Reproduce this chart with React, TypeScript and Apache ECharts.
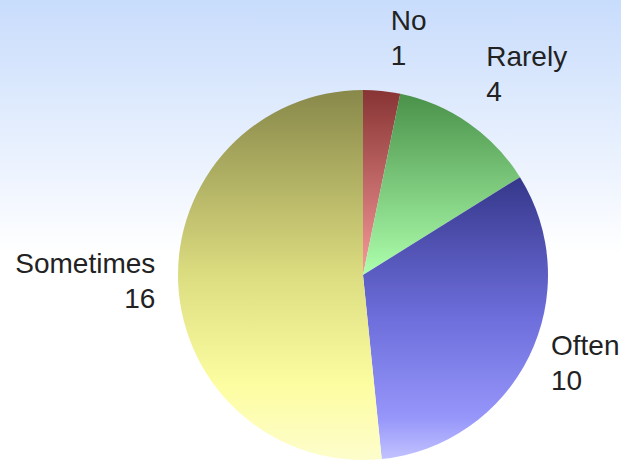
import React, { useEffect, useRef } from "react";
import * as echarts from "echarts";

const categories = ["No", "Rarely", "Often", "Sometimes"];
const values = [1, 4, 10, 16];

// vertical gradient stops per slice (top -> bottom of each slice)
const sliceGradients: [number, string][][] = [
  [[0, "#883434"], [1, "#f89a9a"]],
  [[0, "#4a914a"], [1, "#adffad"]],
  [[0, "#35378a"], [0.5, "#6e6edc"], [0.85, "#9595fa"], [1, "#c2c2ff"]],
  [[0, "#88884a"], [0.5, "#dcdc80"], [0.8, "#fdfda2"], [1, "#fdfdcc"]],
];

// label fine-tuning relative to the library's outside label anchor
const labelDX = [-1, -16, -28, 32];
const labelDY = [-3, -8, -15, -6];

export default function App() {
  const ref = useRef<HTMLDivElement>(null);
  useEffect(() => {
    if (!ref.current) return;
    const chart = echarts.init(ref.current, undefined, { renderer: "svg" });
    const lin = (stops: [number, string][]) => ({
      type: "linear",
      x: 0,
      y: 0,
      x2: 0,
      y2: 1,
      colorStops: stops.map(([offset, color]) => ({ offset, color })),
    });
    chart.setOption({
      animation: false,
      backgroundColor: lin([
        [0, "#c8dcfc"],
        [0.55, "#ffffff"],
        [1, "#ffffff"],
      ]),
      series: [
        {
          type: "pie",
          center: [363, 275],
          radius: 185,
          startAngle: 90,
          clockwise: true,
          avoidLabelOverlap: false,
          label: {
            show: true,
            position: "outside",
            formatter: "{b}\n{c}",
            fontFamily: "Liberation Sans, Arial, sans-serif",
            fontSize: 28,
            lineHeight: 35,
            color: "#222222",
            distanceToLabelLine: 5,
          },
          labelLine: { show: false, length: 50, length2: 0 },
          labelLayout: (p: any) => ({
            dx: labelDX[p.dataIndex],
            dy: labelDY[p.dataIndex],
          }),
          emphasis: { disabled: true },
          itemStyle: { borderWidth: 0 },
          data: categories.map((name, i) => ({
            name,
            value: values[i],
            itemStyle: { color: lin(sliceGradients[i]) },
          })),
        },
      ],
    });
    return () => chart.dispose();
  }, []);
  return (
    <div
      ref={ref}
      style={{ position: "absolute", left: 0, top: 0, width: 621, height: 462 }}
    />
  );
}
